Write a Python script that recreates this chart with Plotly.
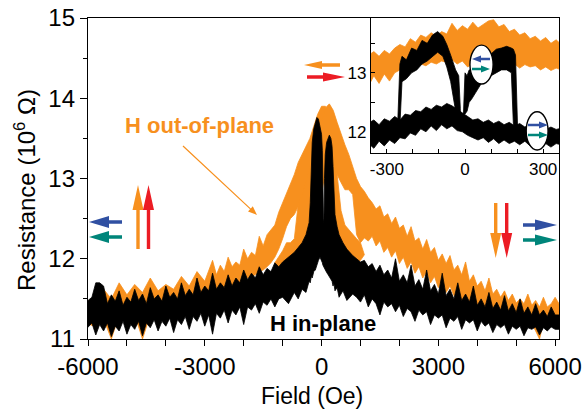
import plotly.graph_objects as go

# ---------------- main panel: resistance vs field ----------------
# in-plane field sweep (black band: upper / lower envelope of the noisy trace)
bm_field = [-6050, -5900, -5800, -5700, -5600, -5500, -5400, -5300, -5200, -5100, -5000, -4900, -4800,
            -4700, -4600, -4500, -4400, -4300, -4200, -4100, -4000, -3900, -3800, -3700, -3600, -3500,
            -3400, -3300, -3200, -3100, -3000, -2900, -2800, -2700, -2600, -2500, -2400, -2300, -2200,
            -2100, -2000, -1900, -1800, -1700, -1600, -1500, -1400, -1300, -1200, -1100,
            -1000, -850, -700, -600, -500, -400, -320, -290, -265, -240, -200, -160, -120, -80, -40,
            0, 20, 35, 50, 62, 75, 95, 130, 170, 200, 240, 270, 295, 315, 345, 400, 450, 550, 650, 800,
            900, 1000, 1100, 1200, 1300, 1400, 1500, 1600, 1700, 1800, 1900, 2000, 2100, 2200, 2300,
            2400, 2500, 2600, 2700, 2800, 2900, 3000, 3100, 3200, 3300, 3400, 3500, 3600, 3700, 3800,
            3900, 4000, 4100, 4200, 4300, 4400, 4500, 4600, 4700, 4800, 4900, 5000, 5100, 5200, 5300,
            5400, 5500, 5600, 5700, 5800, 5900, 6000, 6150]
bm_hi = [11.46, 11.52, 11.70, 11.70, 11.66, 11.44, 11.55, 11.47, 11.60, 11.42, 11.52, 11.46, 11.62,
         11.48, 11.56, 11.44, 11.64, 11.50, 11.55, 11.47, 11.66, 11.52, 11.58, 11.50, 11.70, 11.54,
         11.62, 11.55, 11.76, 11.58, 11.66, 11.60, 11.82, 11.62, 11.70, 11.64, 11.80, 11.66, 11.76,
         11.70, 11.86, 11.74, 11.82, 11.76, 11.90, 11.80, 11.88, 11.84, 11.95, 11.90,
         11.96, 12.02, 12.08, 12.14, 12.20, 12.30, 12.45, 12.70, 13.10, 13.45, 13.62, 13.70, 13.76,
         13.74, 13.66, 13.55, 13.35, 12.90, 12.45, 12.50, 13.00, 13.30, 13.45, 13.52, 13.54, 13.50,
         13.40, 13.15, 12.80, 12.55, 12.40, 12.30, 12.20, 12.12, 12.04,
         12.00, 11.96, 11.98, 11.90, 11.94, 11.84, 11.92, 11.80, 11.86, 11.76, 12.00, 11.72, 11.80,
         11.70, 11.92, 11.66, 11.74, 11.62, 11.86, 11.60, 11.68, 11.56, 11.82, 11.54, 11.62, 11.50,
         11.70, 11.48, 11.56, 11.46, 11.66, 11.42, 11.50, 11.40, 11.58, 11.38, 11.46, 11.36, 11.54,
         11.35, 11.44, 11.33, 11.50, 11.32, 11.40, 11.30, 11.44, 11.30, 11.36, 11.28, 11.40, 11.30, 11.30]
bm_lo = [11.12, 11.20, 11.05, 11.18, 11.10, 11.20, 11.03, 11.16, 11.10, 11.22, 11.06, 11.18, 11.12,
         11.22, 11.04, 11.20, 11.14, 11.24, 11.10, 11.22, 11.16, 11.26, 11.08, 11.24, 11.18, 11.28,
         11.12, 11.28, 11.22, 11.32, 11.16, 11.30, 11.06, 11.32, 11.26, 11.36, 11.20, 11.36, 11.30,
         11.40, 11.18, 11.40, 11.36, 11.44, 11.32, 11.46, 11.42, 11.50, 11.40, 11.50,
         11.52, 11.44, 11.58, 11.50, 11.62, 11.58, 11.72, 11.70, 11.78, 11.76, 11.84, 11.86, 11.92,
         11.98, 12.02, 11.98, 11.95, 11.92, 11.90, 11.89, 11.88, 11.86, 11.83, 11.80, 11.78, 11.74,
         11.72, 11.66, 11.70, 11.60, 11.64, 11.52, 11.60, 11.48, 11.56,
         11.52, 11.46, 11.55, 11.40, 11.50, 11.44, 11.30, 11.46, 11.40, 11.44, 11.34, 11.42, 11.28,
         11.38, 11.34, 11.22, 11.36, 11.30, 11.34, 11.18, 11.30, 11.26, 11.30, 11.14, 11.26, 11.22,
         11.28, 11.12, 11.24, 11.20, 11.24, 11.10, 11.22, 11.16, 11.20, 11.08, 11.18, 11.14, 11.18,
         11.06, 11.16, 11.12, 11.16, 11.04, 11.14, 11.12, 11.15, 11.05, 11.14, 11.10, 11.15, 11.12, 11.12]

# out-of-plane field sweep (orange), two branches of the loop
o1_field = [-6050, -5800, -5600, -5400, -5200, -5000, -4800, -4600, -4400, -4200, -4000, -3800, -3600,
            -3400, -3200, -3000, -2900, -2800, -2700, -2600, -2500, -2400, -2300, -2200, -2100, -2000,
            -1900, -1800, -1700, -1600, -1500, -1400, -1300, -1200, -1100,
            -1000, -900, -800, -700, -600, -500, -400, -300, -200, -100, 0, 100, 200, 300, 400, 500,
            600, 700, 800, 900, 1000, 1100]
o1_hi = [11.45, 11.55, 11.62, 11.50, 11.70, 11.55, 11.68, 11.58, 11.76, 11.60, 11.68, 11.62, 11.78,
         11.66, 11.84, 11.72, 11.86, 11.98, 11.80, 11.92, 11.84, 12.02, 11.90, 11.96, 11.92, 12.12,
         12.00, 12.08, 12.04, 12.28, 12.16, 12.30, 12.36, 12.42, 12.58,
         12.70, 12.82, 12.95, 13.05, 13.20, 13.30, 13.40, 13.50, 13.65, 13.80, 13.90, 13.90, 13.60,
         13.20, 13.05, 12.60, 12.42, 12.36, 12.30, 12.25, 12.20, 12.05]
o1_lo = [11.20, 11.15, 11.25, 11.00, 11.30, 11.25, 11.30, 11.00, 11.30, 11.35, 11.30, 11.35, 11.40,
         11.40, 11.45, 11.50, 11.52, 11.55, 11.56, 11.60, 11.62, 11.64, 11.66, 11.68, 11.70, 11.74,
         11.76, 11.78, 11.80, 11.84, 11.86, 11.90, 11.95, 12.02, 12.12,
         12.25, 12.40, 12.50, 12.55, 12.65, 12.75, 12.85, 12.95, 13.05, 13.10, 13.10, 12.90, 12.60,
         12.40, 12.20, 12.05, 12.00, 12.00, 11.98, 11.95, 11.98, 12.05]

o2_field = [-1200, -1000, -900, -800, -700, -600, -500, -400, -300, -200, -100, 0, 100, 200, 300,
            400, 500, 600, 700, 800, 900,
            1000, 1100, 1200, 1300, 1400, 1500, 1600, 1700, 1800, 1900, 2000, 2100, 2200, 2300, 2400,
            2500, 2600, 2700, 2800, 2900, 3000, 3100, 3200, 3300, 3400, 3500, 3600, 3700, 3800, 3900,
            4000, 4100, 4200, 4300, 4400, 4500, 4600, 4700, 4800, 4900, 5000, 5100, 5200, 5300, 5400,
            5500, 5600, 5700, 5800, 5900, 6000, 6150]
o2_hi = [11.95, 12.10, 12.20, 12.20, 12.25, 12.68, 12.80, 12.95, 13.15, 13.35, 13.55, 13.70, 13.88,
         13.93, 13.85, 13.70, 13.55, 13.42, 13.30, 13.15, 13.00,
         12.90, 12.84, 12.76, 12.70, 12.62, 12.66, 12.52, 12.56, 12.44, 12.52, 12.38, 12.42, 12.28,
         12.40, 12.22, 12.26, 12.12, 12.24, 12.08, 12.14, 11.98, 12.06, 11.94, 12.04, 11.86, 11.92,
         11.80, 11.96, 11.72, 11.80, 11.66, 11.72, 11.60, 11.76, 11.56, 11.62, 11.52, 11.60, 11.48,
         11.56, 11.45, 11.50, 11.44, 11.56, 11.42, 11.48, 11.40, 11.52, 11.40, 11.44, 11.52, 11.40]
o2_lo = [11.70, 11.80, 11.90, 11.95, 12.00, 12.05, 12.10, 12.15, 12.20, 12.30, 12.50, 12.80, 13.10,
         13.20, 13.15, 13.05, 12.95, 12.86, 12.86, 12.80, 12.30,
         12.20, 12.26, 12.22, 12.28, 12.16, 12.22, 12.08, 12.14, 12.02, 12.10, 11.94, 12.02, 11.88,
         11.96, 11.82, 11.90, 11.76, 11.84, 11.70, 11.78, 11.64, 11.72, 11.58, 11.66, 11.54, 11.58,
         11.48, 11.54, 11.44, 11.48, 11.40, 11.44, 11.36, 11.40, 11.32, 11.36, 11.30, 11.32, 11.26,
         11.30, 11.24, 11.26, 11.20, 11.24, 11.20, 11.10, 11.00, 11.20, 11.18, 11.20, 11.15, 11.15]

# ---------------- inset: low-field detail ----------------
in_field = [-370, -350, -330, -310, -290, -270, -250, -230, -210, -190, -170, -150, -130, -110, -90,
            -70, -50, -30, -10, 10, 30, 50, 70, 90, 110, 130, 150, 170, 190, 210, 230, 250, 270,
            290, 310, 330, 350, 370]
io_hi = [13.30, 13.36, 13.28, 13.38, 13.32, 13.42, 13.48, 13.44, 13.58, 13.52, 13.64, 13.60, 13.68,
         13.62, 13.70, 13.66, 13.84, 13.72, 13.80, 13.74, 13.86, 13.76, 13.82, 13.88, 13.90, 13.78,
         13.82, 13.70, 13.74, 13.64, 13.68, 13.58, 13.62, 13.54, 13.60, 13.50, 13.56, 13.48]
io_lo = [12.78, 12.95, 12.82, 12.98, 12.86, 13.00, 13.05, 13.02, 13.12, 13.08, 13.15, 13.12, 13.18,
         13.15, 13.20, 13.18, 13.22, 13.15, 13.20, 13.10, 13.15, 13.12, 13.20, 13.16, 13.22, 13.14,
         13.18, 13.10, 13.15, 13.08, 13.14, 13.10, 13.12, 13.05, 13.10, 13.04, 13.08, 13.05]
ib_hi = [12.15, 12.20, 12.12, 12.22, 12.18, 12.26, 12.20, 12.30, 12.28, 12.36, 12.34, 12.42, 12.38,
         12.45, 12.42, 12.48, 12.44, 12.38, 12.32, 12.26, 12.20, 12.22, 12.16, 12.20, 12.14, 12.18,
         12.12, 12.16, 12.10, 12.14, 12.08, 12.12, 12.06, 12.10, 12.04, 12.08, 12.04, 12.06]
ib_lo = [11.80, 11.72, 11.84, 11.76, 11.86, 11.80, 11.90, 11.88, 11.98, 11.94, 12.05, 12.00, 12.10,
         12.02, 12.12, 12.05, 12.10, 12.02, 12.00, 11.94, 11.90, 11.86, 11.90, 11.82, 11.88, 11.80,
         11.86, 11.80, 11.84, 11.78, 11.84, 11.76, 11.82, 11.75, 11.80, 11.74, 11.80, 11.78]

# upper branch of the inset loop (two pieces, split near zero field)
ul_field = [-258, -250, -242, -225, -205, -185, -165, -145, -125, -105, -85, -70, -55, -45, -36, -30,
            -24, -18]
ul_hi = [12.20, 13.15, 13.28, 13.22, 13.42, 13.38, 13.55, 13.50, 13.64, 13.70, 13.62, 13.48, 13.30,
         13.15, 13.05, 13.00, 12.95, 12.40]
ul_lo = [12.10, 12.10, 12.85, 12.90, 13.00, 13.05, 13.15, 13.20, 13.28, 13.35, 13.28, 13.10, 12.85,
         12.60, 12.35, 12.28, 12.28, 12.32]
ur_field = [-6, 0, 8, 16, 25, 40, 60, 80, 100, 120, 140, 160, 178, 186, 194, 202]
ur_hi = [12.30, 13.00, 12.95, 13.05, 13.05, 13.10, 13.20, 13.28, 13.32, 13.40, 13.42, 13.45, 13.42,
         13.40, 13.30, 12.10]
ur_lo = [12.30, 12.30, 12.35, 12.50, 12.55, 12.65, 12.80, 12.90, 12.95, 13.00, 13.05, 13.05, 13.00,
         12.10, 12.05, 12.05]

# ---------------- ticks ----------------
main_xticks = [-6000, -3000, 0, 3000, 6000]
main_xlabels = ["-6000", "-3000", "0", "3000", "6000"]
main_yticks = [11, 12, 13, 14, 15]
main_ylabels = ["11", "12", "13", "14", "15"]
inset_xticks = [-300, 0, 300]
inset_xlabels = ["-300", "0", "300"]
inset_yticks = [12, 13]
inset_ylabels = ["12", "13"]

ORANGE = "#F7901E"
RED = "#EC1C24"
BLUE = "#3050A2"
TEAL = "#00857A"
BLACK = "#000000"
FONT = "Liberation Sans, Arial, sans-serif"

W, H = 586, 416
L, R, T, B = 88, 27, 18, 77
PW, PH = W - L - R, H - T - B


def band(x, hi, lo, color, xa="x", ya="y"):
    return go.Scatter(x=list(x) + list(x)[::-1], y=list(hi) + list(lo)[::-1],
                      mode="lines", fill="toself", fillcolor=color,
                      line=dict(color=color, width=0.8),
                      xaxis=xa, yaxis=ya, hoverinfo="skip", showlegend=False)


def px2paper(px, py):
    return (px - L) / PW, (H - B - py) / PH


def arrow(x0, y0, x1, y1, color, sw=3.4, hl=20, hw=12):
    """Block arrow from tail (x0,y0) to tip (x1,y1), given in figure pixels."""
    dx, dy = x1 - x0, y1 - y0
    n = (dx * dx + dy * dy) ** 0.5
    ux, uy = dx / n, dy / n
    nx, ny = -uy, ux
    bx, by = x1 - ux * hl, y1 - uy * hl
    pts = [(x0 + nx * sw / 2, y0 + ny * sw / 2), (bx + nx * sw / 2, by + ny * sw / 2),
           (bx + nx * hw / 2, by + ny * hw / 2), (x1, y1),
           (bx - nx * hw / 2, by - ny * hw / 2), (bx - nx * sw / 2, by - ny * sw / 2),
           (x0 - nx * sw / 2, y0 - ny * sw / 2)]
    pp = [px2paper(a, b) for a, b in pts]
    path = "M" + " L".join(f"{a:.5f},{b:.5f}" for a, b in pp) + " Z"
    return dict(type="path", xref="paper", yref="paper", path=path,
                fillcolor=color, line=dict(width=0), layer="above")


fig = go.Figure()
fig.add_trace(band(o1_field, o1_hi, o1_lo, ORANGE))
fig.add_trace(band(o2_field, o2_hi, o2_lo, ORANGE))
fig.add_trace(band(bm_field, bm_hi, bm_lo, BLACK))
fig.add_trace(band(in_field, io_hi, io_lo, ORANGE, "x2", "y2"))
fig.add_trace(band(in_field, ib_hi, ib_lo, BLACK, "x2", "y2"))
fig.add_trace(band(ul_field, ul_hi, ul_lo, BLACK, "x2", "y2"))
fig.add_trace(band(ur_field, ur_hi, ur_lo, BLACK, "x2", "y2"))

axis_common = dict(showline=True, linecolor="black", linewidth=1.4, mirror=True,
                   showgrid=False, zeroline=False, tickcolor="black", tickwidth=1.4)

inset_x0 = (371 - L) / PW
inset_y0 = (H - B - 153) / PH

fig.update_layout(
    width=W, height=H, margin=dict(l=L, r=R, t=T, b=B, autoexpand=False),
    paper_bgcolor="white", plot_bgcolor="white", showlegend=False,
    xaxis=dict(range=[-6000, 6100], tickmode="array", tickvals=main_xticks, ticktext=main_xlabels,
               ticks="outside", ticklen=6, domain=[0, 1],
               tickfont=dict(family=FONT, size=24, color="black"),
               minor=dict(dtick=1000, tick0=0, ticks="outside", ticklen=6, tickwidth=1.4,
                          tickcolor="black", showgrid=False),
               **axis_common),
    yaxis=dict(range=[11, 15], tickmode="array", tickvals=main_yticks, ticktext=main_ylabels,
               ticks="outside", ticklen=7, domain=[0, 1],
               tickfont=dict(family=FONT, size=24, color="black"),
               minor=dict(dtick=0.5, tick0=0, ticks="outside", ticklen=4, tickwidth=1.4,
                          tickcolor="black", showgrid=False),
               **axis_common),
    xaxis2=dict(range=[-361, 361], anchor="y2", domain=[inset_x0, 1],
                tickmode="array", tickvals=inset_xticks, ticktext=inset_xlabels,
                ticks="inside", ticklen=4,
                tickfont=dict(family=FONT, size=17, color="black"),
                minor=dict(dtick=100, tick0=0, ticks="inside", ticklen=4, tickwidth=1.2,
                           tickcolor="black", showgrid=False),
                **axis_common),
    yaxis2=dict(range=[11.64, 13.93], anchor="x2", domain=[inset_y0, 1],
                tickmode="array", tickvals=inset_yticks, ticktext=inset_ylabels,
                ticks="inside", ticklen=4,
                tickfont=dict(family=FONT, size=17, color="black"),
                minor=dict(dtick=0.5, tick0=0, ticks="inside", ticklen=4, tickwidth=1.2,
                           tickcolor="black", showgrid=False),
                **axis_common),
)

shapes = []
# inset ellipses marking the magnetisation configurations
shapes.append(dict(type="circle", xref="x2", yref="y2", x0=19, x1=108, y0=12.81, y1=13.47,
                   fillcolor="white", line=dict(color="black", width=1.4), layer="above"))
shapes.append(dict(type="circle", xref="x2", yref="y2", x0=235, x1=319, y0=11.69, y1=12.34,
                   fillcolor="white", line=dict(color="black", width=1.4), layer="above"))
# small arrows inside the ellipses
shapes.append(arrow(490, 59, 472, 59, BLUE, sw=2.4, hl=9, hw=7))
shapes.append(arrow(472, 69, 490, 69, TEAL, sw=2.4, hl=9, hw=7))
shapes.append(arrow(528, 125, 548, 125, BLUE, sw=2.4, hl=9, hw=7))
shapes.append(arrow(528, 135, 548, 135, TEAL, sw=2.4, hl=9, hw=7))
# left-hand configuration
shapes.append(arrow(122, 222, 89, 222, BLUE))
shapes.append(arrow(122, 237, 89, 237, TEAL))
shapes.append(arrow(138, 249, 138, 185, ORANGE, hl=25, hw=11))
shapes.append(arrow(148.5, 249, 148.5, 185, RED, hl=25, hw=11))
# right-hand configuration
shapes.append(arrow(495.7, 203, 495.7, 258, ORANGE, hl=25, hw=11))
shapes.append(arrow(506.7, 203, 506.7, 258, RED, hl=25, hw=11))
shapes.append(arrow(523, 225, 557, 225, BLUE, hl=22, hw=11))
shapes.append(arrow(523, 240, 557, 240, TEAL, hl=22, hw=11))
# top configuration
shapes.append(arrow(340, 65, 304, 65, ORANGE, sw=3.4, hl=18, hw=8))
shapes.append(arrow(307, 77, 345, 77, RED, sw=3.4, hl=22, hw=9))
# thin pointer from the out-of-plane label to its curve
shapes.append(arrow(183, 146, 257, 215, ORANGE, sw=1.2, hl=9, hw=7))
fig.update_layout(shapes=shapes)

ann = []
xt, yt = px2paper(25, 190)
ann.append(dict(x=xt, y=yt, xref="paper", yref="paper", text="Resistance (10<sup>6</sup> Ω)",
                textangle=-90, showarrow=False, xanchor="center", yanchor="middle",
                font=dict(family=FONT, size=24, color="black")))
xt, yt = px2paper(312, 396)
ann.append(dict(x=xt, y=yt, xref="paper", yref="paper", text="Field (Oe)",
                showarrow=False, xanchor="center", yanchor="middle",
                font=dict(family=FONT, size=23, color="black")))
xt, yt = px2paper(199, 125)
ann.append(dict(x=xt, y=yt, xref="paper", yref="paper", text="<b>H out-of-plane</b>",
                showarrow=False, xanchor="center", yanchor="middle",
                font=dict(family=FONT, size=22, color=ORANGE)))
xt, yt = px2paper(323, 323)
ann.append(dict(x=xt, y=yt, xref="paper", yref="paper", text="<b>H in-plane</b>",
                showarrow=False, xanchor="center", yanchor="middle",
                font=dict(family=FONT, size=22, color="black")))
fig.update_layout(annotations=ann)

fig.write_html("out.html")
